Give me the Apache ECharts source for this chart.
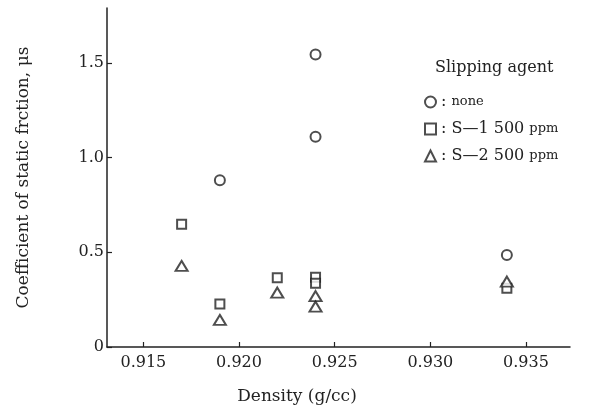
<!DOCTYPE html>
<html>
<head>
<meta charset="utf-8">
<script src="https://cdn.jsdelivr.net/npm/echarts@6/dist/echarts.min.js"></script>
<style>
  html, body { margin: 0; padding: 0; background: #fff; }
  #chart { width: 596px; height: 410px; }
</style>
</head>
<body>
<div id="chart"></div>
<script>
// data: [density, mu_s]
var noneData = [[0.919, 0.88], [0.924, 1.545], [0.924, 1.11], [0.934, 0.486]];
var s1Data = [[0.917, 0.648], [0.919, 0.227], [0.922, 0.366], [0.924, 0.368], [0.924, 0.336], [0.934, 0.31]];
var s2Data = [[0.917, 0.428], [0.919, 0.143], [0.922, 0.287], [0.924, 0.269], [0.924, 0.213], [0.934, 0.345]];

var xTicks = [0.915, 0.920, 0.925, 0.930, 0.935];
var yTicks = [0, 0.5, 1.0, 1.5];

var ink = '#222';
var serif = 'DejaVu Serif';

var chartDom = document.getElementById('chart');
var myChart = echarts.init(chartDom);
var option;

option = {
  animation: false,
  backgroundColor: '#fff',
  title: {
    text: 'Slipping agent',
    left: 430,
    top: 55,
    textStyle: { fontFamily: serif, fontSize: 16, fontWeight: 'normal', color: ink }
  },
  legend: {
    orient: 'vertical',
    left: 419,
    top: 89,
    itemWidth: 11,
    itemHeight: 11,
    itemGap: 11,
    textStyle: {
      fontFamily: serif, fontSize: 16, color: ink,
      rich: {
        sm: { fontFamily: serif, fontSize: 13, color: ink },
        big: { fontFamily: serif, fontSize: 16, color: ink }
      }
    },
    formatter: function (name) {
      if (name === 'none') return ': {sm|none}';
      var parts = name.split(' ');
      return ': {big|' + parts[0] + ' ' + parts[1] + '} {sm|' + parts[2] + '}';
    },
    data: ['none', 'S\u20141 500 ppm', 'S\u20142 500 ppm']
  },
  grid: { left: 107, right: 26, top: 8, bottom: 63 },
  xAxis: {
    type: 'value',
    min: 0.9131,
    max: 0.9373,
    name: 'Density (g/cc)',
    nameLocation: 'middle',
    nameGap: 41,
    nameTextStyle: { fontFamily: serif, fontSize: 17, color: ink, padding: [0, 83, 0, 0] },
    axisLine: { lineStyle: { color: ink, width: 1.5 } },
    axisTick: { inside: true, length: 5, customValues: xTicks, lineStyle: { color: ink, width: 1.2 } },
    axisLabel: {
      customValues: xTicks, margin: 8,
      fontFamily: serif, fontSize: 16, color: ink,
      formatter: function (v) { return v.toFixed(3); }
    },
    splitLine: { show: false }
  },
  yAxis: {
    type: 'value',
    min: 0,
    max: 1.79,
    name: 'Coefficient of static frction, \u03bcs',
    nameLocation: 'middle',
    nameGap: 75,
    nameTextStyle: { fontFamily: serif, fontSize: 17, color: ink },
    axisLine: { lineStyle: { color: ink, width: 1.5 } },
    axisTick: { inside: true, length: 5, customValues: yTicks, lineStyle: { color: ink, width: 1.2 } },
    axisLabel: {
      customValues: yTicks, margin: 3,
      fontFamily: serif, fontSize: 16, color: ink,
      formatter: function (v) { return v === 0 ? '0' : v.toFixed(1); }
    },
    splitLine: { show: false }
  },
  series: [
    {
      name: 'none', type: 'scatter', symbol: 'emptyCircle', symbolSize: 10,
      itemStyle: { color: ink, borderWidth: 2 },
      data: noneData
    },
    {
      name: 'S\u20141 500 ppm', type: 'scatter', symbol: 'emptyRect', symbolSize: 9,
      itemStyle: { color: ink, borderWidth: 1.6 },
      data: s1Data
    },
    {
      name: 'S\u20142 500 ppm', type: 'scatter', symbol: 'emptyTriangle', symbolSize: [12, 10],
      itemStyle: { color: ink, borderWidth: 1.6 },
      data: s2Data
    }
  ]
};

if (option && typeof option === 'object') {
  myChart.setOption(option);
}
</script>
</body>
</html>
